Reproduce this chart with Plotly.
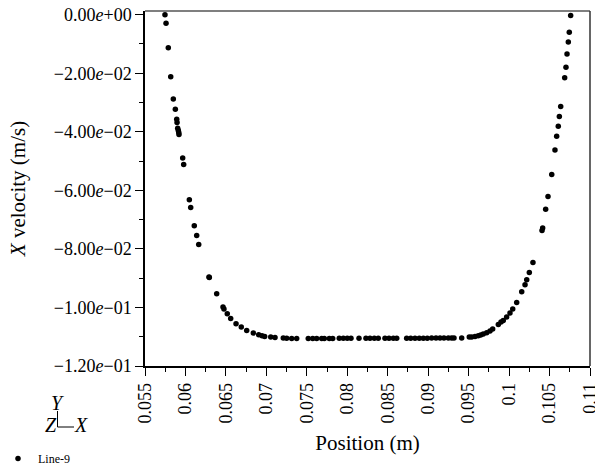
import plotly.graph_objects as go

# ---- data ----
position = [
    0.05747, 0.05760, 0.05788, 0.05818, 0.05850, 0.05875, 0.05892, 0.05896, 0.05904, 0.05912,
    0.05917, 0.05920, 0.05966, 0.05978, 0.06048, 0.06065, 0.06109, 0.06139, 0.06164, 0.06291,
    0.06295, 0.06386, 0.06464, 0.06476, 0.06517, 0.06559, 0.06625, 0.06690, 0.06757, 0.06839,
    0.06905, 0.06946, 0.06979, 0.07054, 0.07107, 0.07209, 0.07251, 0.07313, 0.07375, 0.07518,
    0.07573, 0.07622, 0.07684, 0.07716, 0.07778, 0.07820, 0.07901, 0.07951, 0.08000, 0.08046,
    0.08145, 0.08231, 0.08281, 0.08334, 0.08383, 0.08466, 0.08516, 0.08569, 0.08611, 0.08734,
    0.08784, 0.08837, 0.08890, 0.08940, 0.08989, 0.09043, 0.09097, 0.09146, 0.09195, 0.09249,
    0.09290, 0.09319, 0.09414, 0.09508, 0.09538, 0.09579, 0.09619, 0.09649, 0.09681, 0.09723,
    0.09764, 0.09797, 0.09867, 0.09900, 0.09928, 0.09970, 0.10011, 0.10045, 0.10094, 0.10156,
    0.10197, 0.10218, 0.10250, 0.10295, 0.10407, 0.10415, 0.10452, 0.10481, 0.10527, 0.10567,
    0.10588, 0.10608, 0.10621, 0.10638, 0.10687, 0.10703, 0.10716, 0.10732, 0.10744, 0.10761,
]
x_velocity = [
    0.0, -0.00294, -0.01126, -0.02116, -0.02877, -0.03229, -0.03570, -0.03686, -0.03877, -0.03959,
    -0.04027, -0.04096, -0.04891, -0.05119, -0.06324, -0.06587, -0.07212, -0.07543, -0.07850, -0.08962,
    -0.08980, -0.09532, -0.09986, -0.10055, -0.10215, -0.10375, -0.10556, -0.10669, -0.10785, -0.10874,
    -0.10932, -0.10966, -0.10990, -0.11010, -0.11024, -0.11044, -0.11050, -0.11060, -0.11060, -0.11060,
    -0.11060, -0.11060, -0.11060, -0.11060, -0.11060, -0.11060, -0.11050, -0.11050, -0.11050, -0.11050,
    -0.11050, -0.11050, -0.11050, -0.11050, -0.11050, -0.11050, -0.11050, -0.11050, -0.11050, -0.11050,
    -0.11050, -0.11050, -0.11050, -0.11050, -0.11050, -0.11040, -0.11040, -0.11040, -0.11040, -0.11040,
    -0.11040, -0.11040, -0.11040, -0.11010, -0.11010, -0.10990, -0.10966, -0.10942, -0.10908, -0.10863,
    -0.10805, -0.10737, -0.10580, -0.10498, -0.10444, -0.10328, -0.10191, -0.10055, -0.09829, -0.09464,
    -0.09225, -0.09055, -0.08805, -0.08464, -0.07372, -0.07290, -0.06642, -0.06212, -0.05461, -0.04618,
    -0.04150, -0.03809, -0.03481, -0.03140, -0.02150, -0.01795, -0.01341, -0.00932, -0.00601, -0.00030,
]

x_tick_vals = [0.055, 0.06, 0.065, 0.07, 0.075, 0.08, 0.085, 0.09, 0.095, 0.1, 0.105, 0.11]
x_tick_text = ["0.055", "0.06", "0.065", "0.07", "0.075", "0.08", "0.085", "0.09", "0.095", "0.1", "0.105", "0.11"]
y_tick_vals = [0.0, -0.02, -0.04, -0.06, -0.08, -0.10, -0.12]
y_tick_text = ["0.00<i>e</i>+00", "\u22122.00<i>e</i>\u221202", "\u22124.00<i>e</i>\u221202",
               "\u22126.00<i>e</i>\u221202", "\u22128.00<i>e</i>\u221202", "\u22121.00<i>e</i>\u221201",
               "\u22121.20<i>e</i>\u221201"]
series_name = "Line-9"

FONT = "Liberation Serif"

fig = go.Figure()
fig.add_trace(go.Scatter(
    x=position, y=x_velocity, mode="markers", name=series_name,
    marker=dict(color="black", size=5.5, line=dict(width=0)),
    cliponaxis=False,
))

L, R, T, B = 145, 5, 11, 102
W, H = 595, 468
pw, ph = W - L - R, H - T - B

def px_x(p):
    return (p - L) / pw

def px_y(p):
    return (H - B - p) / ph

fig.update_layout(
    width=W, height=H,
    margin=dict(l=L, r=R, t=T, b=B, pad=0, autoexpand=False),
    paper_bgcolor="white", plot_bgcolor="white",
    font=dict(family=FONT, color="black", size=18),
    showlegend=True,
    legend=dict(xref="paper", yref="paper", x=px_x(-2), y=px_y(473),
                xanchor="left", yanchor="bottom", font=dict(size=12, family=FONT),
                bgcolor="rgba(0,0,0,0)", itemsizing="trace", tracegroupgap=0,
                itemwidth=30),
    xaxis=dict(
        range=[0.055, 0.11], tickmode="array", tickvals=x_tick_vals, ticktext=x_tick_text,
        tickangle=-90, ticks="outside", ticklen=8, tickwidth=1.3, tickcolor="black",
        showline=True, linecolor="black", linewidth=1.5, showgrid=False, zeroline=False,
        tickfont=dict(size=18, family=FONT), automargin=False, ticklabeloverflow="allow",
        minor=dict(ticks="outside", ticklen=4, tickwidth=1.3, tickcolor="black",
                   tick0=0.055, dtick=0.0025, showgrid=False),
        title=dict(text="Position (m)", font=dict(size=21, family=FONT), standoff=13),
    ),
    yaxis=dict(
        range=[-0.12, 0.00126], tickmode="array", tickvals=y_tick_vals, ticktext=y_tick_text,
        ticks="outside", ticklen=8, tickwidth=1.3, tickcolor="black",
        showline=True, linecolor="black", linewidth=1.5, showgrid=False, zeroline=False,
        tickfont=dict(size=18, family=FONT), automargin=False,
        minor=dict(ticks="outside", ticklen=4, tickwidth=1.3, tickcolor="black",
                   tick0=0.0, dtick=0.01, showgrid=False),
        title=dict(text="<i>X</i> velocity (m/s)", font=dict(size=21, family=FONT), standoff=22),
    ),
)

# top and right frame lines
fig.add_shape(type="line", xref="paper", yref="paper", x0=0, x1=1, y0=1, y1=1,
              line=dict(color="#555555", width=1.5))
fig.add_shape(type="line", xref="paper", yref="paper", x0=1, x1=1, y0=0, y1=1,
              line=dict(color="#333333", width=1.5))

# axis triad indicator (bottom-left)
fig.add_shape(type="line", xref="paper", yref="paper", x0=px_x(57.5), x1=px_x(57.5),
              y0=px_y(411), y1=px_y(427), line=dict(color="black", width=1))
fig.add_shape(type="line", xref="paper", yref="paper", x0=px_x(57.5), x1=px_x(74),
              y0=px_y(427), y1=px_y(427), line=dict(color="black", width=1))
for txt, cx, cy in [("<i>Y</i>", 57, 403), ("<i>Z</i>", 51, 425), ("<i>X</i>", 81, 425)]:
    fig.add_annotation(text=txt, xref="paper", yref="paper", x=px_x(cx), y=px_y(cy),
                       showarrow=False, xanchor="center", yanchor="middle",
                       font=dict(size=20, family=FONT, color="black"))

fig.write_html("out.html", config={"displayModeBar": False},
               post_script="document.body.style.margin='0';document.body.style.overflow='hidden';")
